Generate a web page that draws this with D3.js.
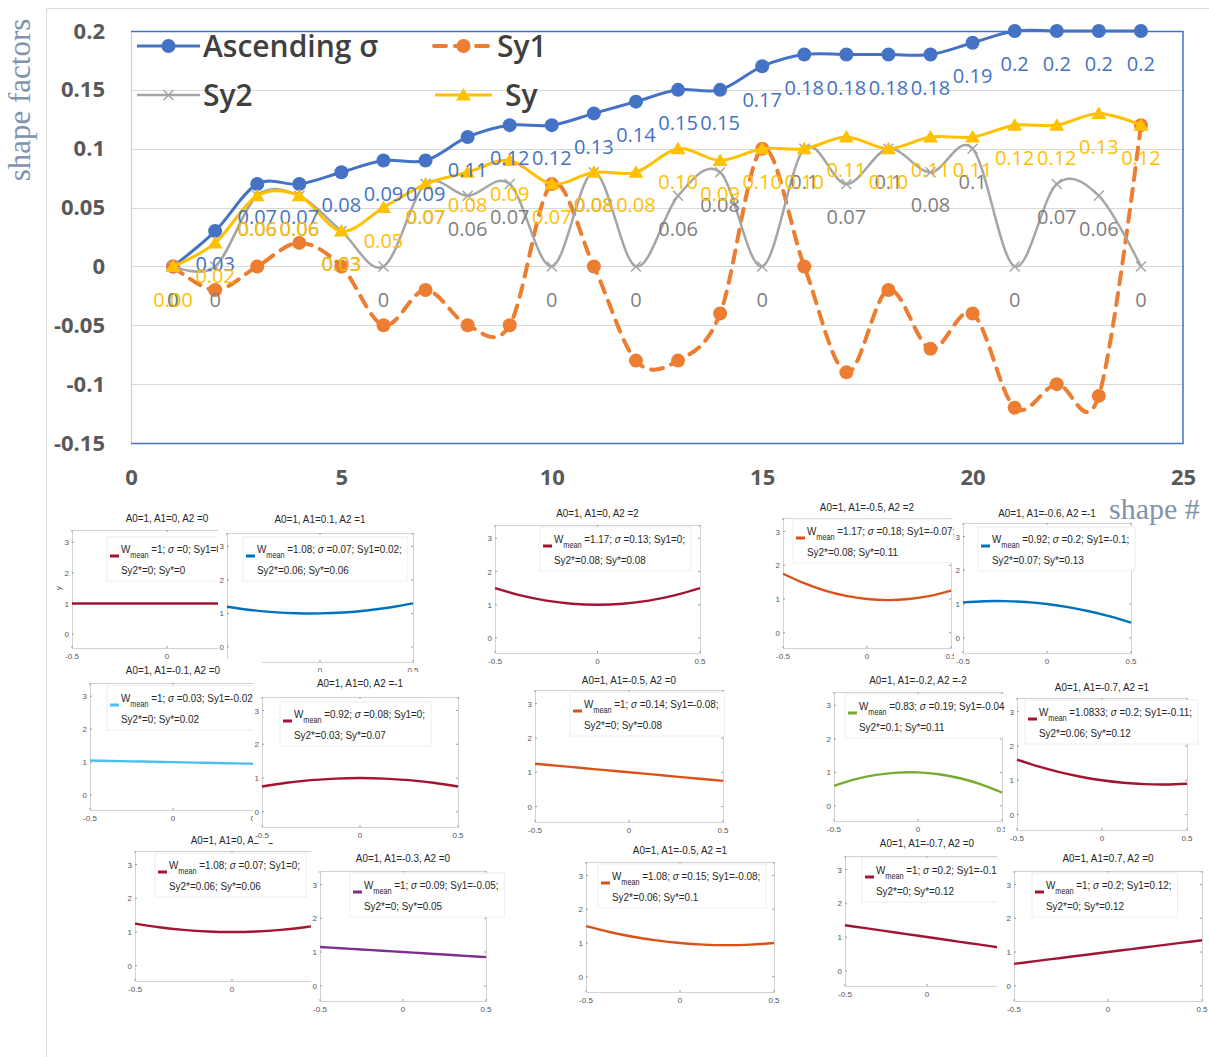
<!DOCTYPE html>
<html><head><meta charset="utf-8">
<script src="https://cdn.jsdelivr.net/npm/d3@7"></script>
<style>body{margin:0;background:#fff}</style>
</head><body>
<script>
// ---------- main chart data ----------
const shapeIds = [1,2,3,4,5,6,7,8,9,10,11,12,13,14,15,16,17,18,19,20,21,22,23,24];
const ascSigma = [0,0.03,0.07,0.07,0.08,0.09,0.09,0.11,0.12,0.12,0.13,0.14,0.15,0.15,0.17,0.18,0.18,0.18,0.18,0.19,0.2,0.2,0.2,0.2];
const sy1Values = [0,-0.02,0,0.02,0,-0.05,-0.02,-0.05,-0.05,0.07,0,-0.08,-0.08,-0.04,0.10,0,-0.09,-0.02,-0.07,-0.04,-0.12,-0.10,-0.11,0.12];
const sy2Values = [0,0,0.06,0.06,0.03,0,0.07,0.06,0.07,0,0.08,0,0.06,0.08,0,0.10,0.07,0.10,0.08,0.10,0,0.07,0.06,0];
const syValues  = [0,0.02,0.06,0.06,0.03,0.05,0.07,0.08,0.09,0.07,0.08,0.08,0.10,0.09,0.10,0.10,0.11,0.10,0.11,0.11,0.12,0.12,0.13,0.12];
const seriesNames = ["Ascending σ","Sy1","Sy2","Sy"];
const yTickValues = [-0.15,-0.1,-0.05,0,0.05,0.1,0.15,0.2];
const yTickLabels = ["-0.15","-0.1","-0.05","0","0.05","0.1","0.15","0.2"];
const xTickValues = [0,5,10,15,20,25];
const xTickLabels = ["0","5","10","15","20","25"];

// ---------- width-profile insets ----------
const panelTitles = [
  "A0=1, A1=0, A2 =0","A0=1, A1=0.1, A2 =1","A0=1, A1=-0.1, A2 =0","A0=1, A1=0, A2 =1",
  "A0=1, A1=0, A2 =-1","A0=1, A1=-0.3, A2 =0","A0=1, A1=0, A2 =2","A0=1, A1=-0.5, A2 =0",
  "A0=1, A1=-0.5, A2 =1","A0=1, A1=-0.5, A2 =2","A0=1, A1=-0.6, A2 =-1","A0=1, A1=-0.2, A2 =-2",
  "A0=1, A1=-0.7, A2 =0","A0=1, A1=-0.7, A2 =1","A0=1, A1=0.7, A2 =0"];
const panelWmean = ["1","1.08","1","1.08","0.92","1","1.17","1","1.08","1.17","0.92","0.83","1","1.0833","1"];
const panelSigma = ["0","0.07","0.03","0.07","0.08","0.09","0.13","0.14","0.15","0.18","0.2","0.19","0.2","0.2","0.2"];
const panelSy1   = ["0","0.02","-0.02","0","0","-0.05","0","-0.08","-0.08","-0.07","-0.1","-0.04","-0.12","-0.11","0.12"];
const panelSy2   = ["0","0.06","0","0.06","0.03","0","0.08","0","0.06","0.08","0.07","0.1","0","0.06","0"];
const panelSy    = ["0","0.06","0.02","0.06","0.07","0.05","0.08","0.08","0.1","0.11","0.13","0.11","0.12","0.12","0.12"];
const profileX = [-0.5,-0.375,-0.25,-0.125,0,0.125,0.25,0.375,0.5];
const panelProfiles = [
  [1,1,1,1,1,1,1,1,1],
  [1.2,1.103,1.0375,1.003,1,1.028,1.0875,1.178,1.3],
  [1.05,1.0375,1.025,1.0125,1,0.9875,0.975,0.9625,0.95],
  [1.25,1.141,1.0625,1.016,1,1.016,1.0625,1.141,1.25],
  [0.75,0.859,0.9375,0.984,1,0.984,0.9375,0.859,0.75],
  [1.15,1.1125,1.075,1.0375,1,0.9625,0.925,0.8875,0.85],
  [1.5,1.281,1.125,1.031,1,1.031,1.125,1.281,1.5],
  [1.25,1.1875,1.125,1.0625,1,0.9375,0.875,0.8125,0.75],
  [1.5,1.328,1.1875,1.078,1,0.953,0.9375,0.953,1.0],
  [1.75,1.469,1.25,1.094,1,0.969,1.0,1.094,1.25],
  [1.05,1.084,1.0875,1.059,1,0.909,0.7875,0.634,0.45],
  [0.6,0.794,0.925,0.994,1,0.944,0.825,0.644,0.4],
  [1.35,1.2625,1.175,1.0875,1,0.9125,0.825,0.7375,0.65],
  [1.6,1.403,1.2375,1.103,1,0.928,0.8875,0.878,0.9],
  [0.65,0.7375,0.825,0.9125,1,1.0875,1.175,1.2625,1.35]];
const panelXTicks = [-0.5,0,0.5];
const panelXTickLabels = ["-0.5","0","0.5"];
const panelYTicks = [0,1,2,3];

// placement and colour of each inset (drawn in this order, later ones on top)
const panelLayout = [
  {box:[72,530,190,118],  titleY:518, leg:[35,7], color:"#A2142F", padL:10, ylabel:true},
  {box:[227,533,186,129], titleY:519, leg:[16,4], color:"#0072BD", padL:9},
  {box:[90,683,166,127],  titleY:670, leg:[17,3], color:"#4DBEEE", padL:10},
  {box:[135,851,194,130], titleY:840, leg:[20,2], color:"#A2142F", padL:10},
  {box:[262,697,196,130], titleY:683, leg:[18,5], color:"#A2142F", padL:9},
  {box:[320,871,166,130], titleY:858, leg:[30,2], color:"#7E2F8E", padL:9},
  {box:[495,525,205,128], titleY:513, leg:[45,2], color:"#A2142F", padL:10},
  {box:[535,690,188,132], titleY:680, leg:[35,2], color:"#D95319", padL:10},
  {box:[586,862,188,130], titleY:850, leg:[12,2], color:"#D95319", padL:10},
  {box:[783,518,168,130], titleY:507, leg:[10,1], color:"#D95319", padL:10},
  {box:[963,523,168,130], titleY:513, leg:[15,4], color:"#0072BD", padL:9},
  {box:[834,692,168,129], titleY:680, leg:[11,2], color:"#77AC30", padL:10},
  {box:[845,856,164,130], titleY:843, leg:[17,2], color:"#A2142F", padL:10},
  {box:[1017,698,170,132],titleY:687, leg:[8,2],  color:"#A2142F", padL:12},
  {box:[1014,871,188,130],titleY:858, leg:[18,2], color:"#A2142F", padL:17}];

const W = 1209, H = 1057;
const svg = d3.select("body").append("svg").attr("width", W).attr("height", H)
  .style("font-family", "'Open Sans', sans-serif");
svg.append("rect").attr("width", W).attr("height", H).attr("fill", "#fff");

// chart frame
svg.append("path").attr("d", "M46.5,1057V8.5H1209").attr("fill", "none").attr("stroke", "#d9d9d9");

const x = d3.scaleLinear().domain([0, 25]).range([131, 1183]);
const y = d3.scaleLinear().domain([-0.15, 0.2]).range([443, 31]);

// horizontal gridlines
svg.append("g").selectAll("line").data(yTickValues).join("line")
  .attr("x1", x(0)).attr("x2", x(25))
  .attr("y1", d => Math.round(y(d)) + 0.5).attr("y2", d => Math.round(y(d)) + 0.5)
  .attr("stroke", "#d9d9d9").attr("stroke-width", 1.2);
// plot area border
svg.append("line").attr("x1", x(0) + 0.5).attr("x2", x(0) + 0.5).attr("y1", y(0.2)).attr("y2", y(-0.15))
  .attr("stroke", "#d0d0d0").attr("stroke-width", 1.2);
svg.append("path")
  .attr("d", `M${x(0)},${Math.round(y(0.2)) + 0.5}H${x(25)}V${Math.round(y(-0.15)) + 0.5}H${x(0)}`)
  .attr("fill", "none").attr("stroke", "#4472C4").attr("stroke-width", 1.5);

// axes
const yAxis = d3.axisLeft(y).tickValues(yTickValues).tickSize(0).tickPadding(0)
  .tickFormat((d, i) => yTickLabels[i]);
const gy = svg.append("g").attr("transform", "translate(105,0)").call(yAxis);
gy.select(".domain").remove();
gy.selectAll("text").attr("font-size", 22).attr("font-weight", 700).attr("fill", "#595959")
  .attr("font-family", "'Open Sans', sans-serif");

const xAxis = d3.axisBottom(x).tickValues(xTickValues).tickSize(0).tickPadding(0)
  .tickFormat((d, i) => xTickLabels[i]);
const gx = svg.append("g").attr("transform", "translate(0,469)").call(xAxis);
gx.select(".domain").remove();
gx.selectAll("text").attr("font-size", 22).attr("font-weight", 700).attr("fill", "#595959")
  .attr("font-family", "'Open Sans', sans-serif");

// axis titles
const titleColor = "#8093ad";
svg.append("text").attr("transform", "translate(30,100) rotate(-90)")
  .attr("text-anchor", "middle").attr("font-family", "'Liberation Serif', serif")
  .attr("font-size", 31).attr("fill", titleColor).text("shape factors");

// series
const smooth = d3.curveCardinal.tension(0);
const lineGen = vals => d3.line().x((d, i) => x(shapeIds[i])).y(d => y(d)).curve(smooth)(vals);

const BLUE = "#4472C4", ORANGE = "#ED7D31", GRAY = "#A5A5A5", GOLD = "#FFC000";
const triangle = "M0,-7L7.5,5.5L-7.5,5.5Z";
const cross = "M-5,-5L5,5M-5,5L5,-5";

// Ascending sigma
svg.append("path").attr("d", lineGen(ascSigma)).attr("fill", "none")
  .attr("stroke", BLUE).attr("stroke-width", 3);
svg.append("g").selectAll("circle").data(ascSigma).join("circle")
  .attr("cx", (d, i) => x(shapeIds[i])).attr("cy", d => y(d)).attr("r", 7).attr("fill", BLUE);

// Sy1
svg.append("path").attr("d", lineGen(sy1Values)).attr("fill", "none")
  .attr("stroke", ORANGE).attr("stroke-width", 4).attr("stroke-dasharray", "12,9")
  .attr("stroke-linecap", "round");
svg.append("g").selectAll("circle").data(sy1Values).join("circle")
  .attr("cx", (d, i) => x(shapeIds[i])).attr("cy", d => y(d)).attr("r", 7).attr("fill", ORANGE);

// Sy2
svg.append("path").attr("d", lineGen(sy2Values)).attr("fill", "none")
  .attr("stroke", GRAY).attr("stroke-width", 2.5);
svg.append("g").selectAll("path").data(sy2Values).join("path")
  .attr("transform", (d, i) => `translate(${x(shapeIds[i])},${y(d)})`)
  .attr("d", cross).attr("stroke", GRAY).attr("stroke-width", 1.5).attr("fill", "none");

// Sy
svg.append("path").attr("d", lineGen(syValues)).attr("fill", "none")
  .attr("stroke", GOLD).attr("stroke-width", 3);
svg.append("g").selectAll("path").data(syValues).join("path")
  .attr("transform", (d, i) => `translate(${x(shapeIds[i])},${y(d)})`)
  .attr("d", triangle).attr("fill", GOLD);

// data labels
function labels(vals, color, fmt) {
  svg.append("g").selectAll("text").data(vals).join("text")
    .attr("x", (d, i) => x(shapeIds[i])).attr("y", d => y(d) + 33)
    .attr("dy", "0.36em").attr("text-anchor", "middle")
    .attr("font-size", 20).attr("fill", color).text(fmt);
}
labels(ascSigma, BLUE, d => String(d));
labels(sy2Values, "#7f7f7f", d => String(d));
labels(syValues, GOLD, d3.format(".2f"));

// legend
const lg = svg.append("g").attr("font-size", 30).attr("font-weight", 600).attr("fill", "#404040");
function legendItem(x0, x1, cy, tx, name, kind) {
  const c = (x0 + x1) / 2;
  if (kind === 0) {
    lg.append("line").attr("x1", x0).attr("x2", x1).attr("y1", cy).attr("y2", cy).attr("stroke", BLUE).attr("stroke-width", 3);
    lg.append("circle").attr("cx", c).attr("cy", cy).attr("r", 7).attr("fill", BLUE);
  } else if (kind === 1) {
    lg.append("line").attr("x1", x0).attr("x2", x1).attr("y1", cy).attr("y2", cy).attr("stroke", ORANGE)
      .attr("stroke-width", 4).attr("stroke-dasharray", "12,9").attr("stroke-linecap", "round");
    lg.append("circle").attr("cx", c).attr("cy", cy).attr("r", 7).attr("fill", ORANGE);
  } else if (kind === 2) {
    lg.append("line").attr("x1", x0).attr("x2", x1).attr("y1", cy).attr("y2", cy).attr("stroke", GRAY).attr("stroke-width", 2.5);
    lg.append("path").attr("transform", `translate(${c},${cy})`).attr("d", cross).attr("stroke", GRAY).attr("stroke-width", 1.5);
  } else {
    lg.append("line").attr("x1", x0).attr("x2", x1).attr("y1", cy).attr("y2", cy).attr("stroke", GOLD).attr("stroke-width", 3);
    lg.append("path").attr("transform", `translate(${c},${cy})`).attr("d", triangle).attr("fill", GOLD);
  }
  lg.append("text").attr("x", tx).attr("y", cy + 11).text(name);
}
legendItem(137, 200, 46, 203, seriesNames[0], 0);
legendItem(434, 493, 46, 497, seriesNames[1], 1);
legendItem(137, 200, 95, 203, seriesNames[2], 2);
legendItem(435, 492, 95, 505, seriesNames[3], 3);

// ---------- insets ----------
const narrow = "'Liberation Sans Narrow', 'Arial Narrow', sans-serif";
const squeeze = 0.86;   // horizontal compression of inset text
panelLayout.forEach((L, i) => {
  const [bx, by, bw, bh] = L.box;
  const px = d3.scaleLinear().domain([-0.5, 0.5]).range([bx, bx + bw]);
  const py = d3.scaleLinear().domain([-0.45, 3.4]).range([by + bh, by]);
  const g = svg.append("g").attr("font-family", narrow);
  const top = L.titleY - 11;
  g.append("rect").attr("x", bx - L.padL).attr("y", top)
    .attr("width", bw + L.padL + 6).attr("height", by + bh + 16 - top).attr("fill", "#fff");
  g.append("text").attr("transform", `translate(${bx + bw / 2},${L.titleY + 4}) scale(${squeeze},1)`)
    .attr("text-anchor", "middle").attr("font-size", 11.5).attr("fill", "#262626").text(panelTitles[i]);
  g.append("rect").attr("x", bx + 0.5).attr("y", by + 0.5).attr("width", bw).attr("height", bh)
    .attr("fill", "#fff").attr("stroke", "#d2d2d2");
  // ticks
  panelXTicks.forEach((t, k) => {
    g.append("line").attr("x1", px(t)).attr("x2", px(t)).attr("y1", by + bh).attr("y2", by + bh - 2).attr("stroke", "#999");
    g.append("line").attr("x1", px(t)).attr("x2", px(t)).attr("y1", by).attr("y2", by + 2).attr("stroke", "#999");
    g.append("text").attr("x", px(t)).attr("y", by + bh + 11).attr("text-anchor", "middle")
      .attr("font-size", 8).attr("fill", "#555").text(panelXTickLabels[k]);
  });
  panelYTicks.forEach(t => {
    g.append("line").attr("x1", bx).attr("x2", bx + 2).attr("y1", py(t)).attr("y2", py(t)).attr("stroke", "#999");
    g.append("line").attr("x1", bx + bw).attr("x2", bx + bw - 2).attr("y1", py(t)).attr("y2", py(t)).attr("stroke", "#999");
    g.append("text").attr("x", bx - 3).attr("y", py(t) + 3).attr("text-anchor", "end")
      .attr("font-size", 8).attr("fill", "#555").text(t);
  });
  if (L.ylabel) {
    g.append("text").attr("transform", `translate(${bx - 11},${py(1.5)}) rotate(-90)`)
      .attr("text-anchor", "middle").attr("font-size", 8).attr("fill", "#555").text("y");
  }
  // profile curve
  g.append("path")
    .attr("d", d3.line().x((d, k) => px(profileX[k])).y(d => py(d)).curve(d3.curveNatural)(panelProfiles[i]))
    .attr("fill", "none").attr("stroke", L.color).attr("stroke-width", 2.4);
  // legend
  const lx = bx + L.leg[0], ly = by + L.leg[1];
  const lgBox = g.append("rect").attr("x", lx).attr("y", ly).attr("height", 44)
    .attr("fill", "#fff").attr("stroke", "#eeeeee");
  g.append("line").attr("x1", lx + 3).attr("x2", lx + 12).attr("y1", ly + 19).attr("y2", ly + 19)
    .attr("stroke", L.color).attr("stroke-width", 3);
  const t1 = g.append("text").attr("transform", `translate(${lx + 14},${ly + 16}) scale(${squeeze},1)`)
    .attr("font-size", 11.5).attr("fill", "#262626");
  t1.append("tspan").text("W");
  t1.append("tspan").attr("font-size", 8.5).attr("dy", 5).text("mean");
  t1.append("tspan").attr("dy", -5).text(` =${panelWmean[i]}; `);
  t1.append("tspan").attr("font-style", "italic").text("σ");
  t1.append("tspan").text(` =${panelSigma[i]}; Sy1=${panelSy1[i]};`);
  const t2 = g.append("text").attr("transform", `translate(${lx + 14},${ly + 37}) scale(${squeeze},1)`)
    .attr("font-size", 11.5).attr("fill", "#262626")
    .text(`Sy2*=${panelSy2[i]}; Sy*=${panelSy[i]}`);
  const wText = squeeze * Math.max(t1.node().getComputedTextLength(), t2.node().getComputedTextLength());
  lgBox.attr("width", wText + 20);
});

// horizontal axis title
svg.append("text").attr("x", 1109).attr("y", 519).attr("font-family", "'Liberation Serif', serif")
  .attr("font-size", 30).attr("fill", titleColor).text("shape #");
</script>
</body></html>
